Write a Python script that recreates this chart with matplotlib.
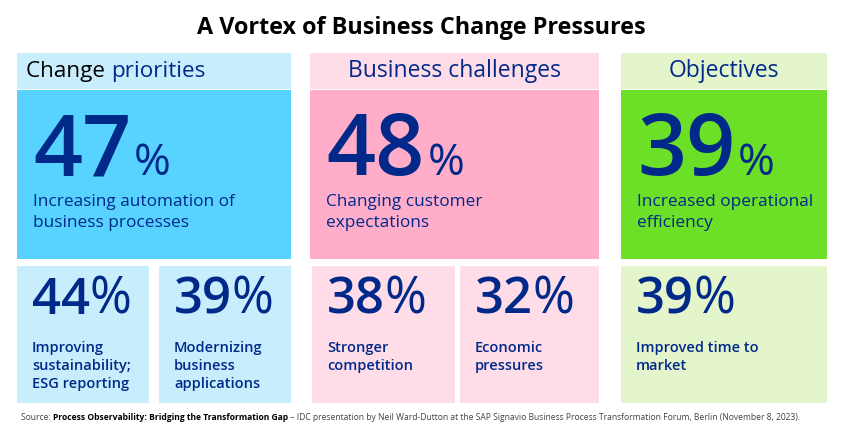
import matplotlib
matplotlib.use("Agg")
import matplotlib.pyplot as plt
from matplotlib.patches import Rectangle

plt.rcParams['font.family'] = ['Open Sans', 'DejaVu Sans']

# ---- data ----
title = "A Vortex of Business Change Pressures"
groups = ["Change priorities", "Business challenges", "Objectives"]
main_values = [47, 48, 39]
main_labels = [["Increasing automation of", "business processes"],
               ["Changing customer", "expectations"],
               ["Increased operational", "efficiency"]]
sub_values = [[44, 39], [38, 32], [39]]
sub_labels = [[["Improving", "sustainability;", "ESG reporting"],
               ["Modernizing", "business", "applications"]],
              [["Stronger", "competition"],
               ["Economic", "pressures"]],
              [["Improved time to", "market"]]]
source_parts = ["Source: ", "Process Observability: Bridging the Transformation Gap",
                " \u2013 IDC presentation by Neil Ward-Dutton at the SAP Signavio Business Process Transformation Forum, Berlin (November 8, 2023)."]

# ---- style / layout ----
NAVY = "#00298A"
light = ["#C8EEFD", "#FFDDE8", "#E5F5CB"]
strong = ["#58D3FF", "#FFADC9", "#6CDF27"]
col_x = [(17, 291), (310, 599), (621, 827)]
sub_x = [[(17, 149), (159, 291)], [(312, 455), (460, 599)], [(621, 827)]]

W, H = 846, 432
fig = plt.figure(figsize=(W / 100, H / 100), dpi=100)
ax = fig.add_axes([0, 0, 1, 1])
ax.set_xlim(0, W)
ax.set_ylim(H, 0)
ax.axis('off')
fig.canvas.draw()
renderer = fig.canvas.get_renderer()

def px_width(t):
    bb = t.get_window_extent(renderer=renderer)
    return bb.width

ax.text(421, 34, title, ha='center', va='baseline', fontsize=16.8, fontweight='bold', color='black')

for i, g in enumerate(groups):
    x0, x1 = col_x[i]
    ax.add_patch(Rectangle((x0, 53), x1 - x0, 36, facecolor=light[i], edgecolor='none'))
    ax.add_patch(Rectangle((x0, 90), x1 - x0, 169, facecolor=strong[i], edgecolor='none'))
    # header
    if i == 0:
        first, rest = g.split(" ", 1)
        t1 = ax.text(26, 77, first + " ", ha='left', va='baseline', fontsize=16.2, color='black')
        w = px_width(t1)
        ax.text(26 + w, 77, rest, ha='left', va='baseline', fontsize=16.2, color=NAVY)
    else:
        ax.text((x0 + x1) / 2, 77, g, ha='center', va='baseline', fontsize=16.5, color=NAVY)
    # main number
    tx = x0 + 16
    tn = ax.text(tx, 175, str(main_values[i]), ha='left', va='baseline', fontsize=62,
                 fontweight='semibold', color=NAVY)
    w = px_width(tn)
    ax.text(tx + w + 3, 175, "%", ha='left', va='baseline', fontsize=32, color=NAVY)
    for j, line in enumerate(main_labels[i]):
        ax.text(tx, 206 + 21 * j, line, ha='left', va='baseline', fontsize=12.4, color=NAVY)
    # sub boxes
    for k, (sx0, sx1) in enumerate(sub_x[i]):
        ax.add_patch(Rectangle((sx0, 266), sx1 - sx0, 137, facecolor=light[i], edgecolor='none'))
        stx = sx0 + 15
        ts = ax.text(stx, 314, str(sub_values[i][k]), ha='left', va='baseline', fontsize=36.5,
                     fontweight='semibold', color=NAVY)
        w = px_width(ts)
        ax.text(stx + w, 314, "%", ha='left', va='baseline', fontsize=36.5, color=NAVY)
        for j, line in enumerate(sub_labels[i][k]):
            ax.text(stx, 352 + 18 * j, line, ha='left', va='baseline', fontsize=10.5,
                    fontweight='semibold', color=NAVY)

# source line
x = 21
weights = ['normal', 'bold', 'normal']
colors = ['#444444', 'black', '#444444']
for part, fw, c in zip(source_parts, weights, colors):
    t = ax.text(x, 420, part, ha='left', va='baseline', fontsize=6.15, fontweight=fw, color=c)
    x += px_width(t)

fig.savefig("out.png", dpi=100)
